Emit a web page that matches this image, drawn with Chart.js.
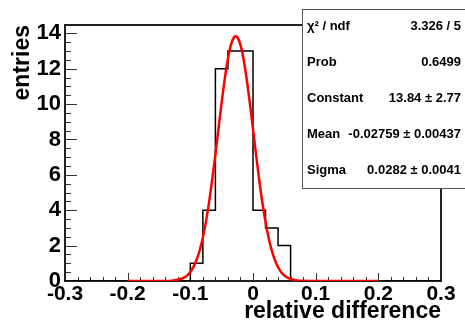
<!DOCTYPE html>
<html>
<head>
<meta charset="utf-8">
<script src="https://cdn.jsdelivr.net/npm/chart.js@4/dist/chart.umd.min.js"></script>
<style>
  html, body { margin:0; padding:0; background:#fff; }
  canvas { display:block; }
</style>
</head>
<body>
<canvas id="c" width="465" height="326"></canvas>
<script>
// histogram: left edge of each bin run and its entries
const binLow   = [-0.30, -0.10, -0.08, -0.06, -0.04, -0.02, 0.00, 0.02, 0.04, 0.06, 0.30];
const binCount = [0, 1, 4, 12, 13, 13, 4, 3, 2, 0, 0];

// gaus fit curve
const fitX = [-0.20,-0.15,-0.13,-0.12,-0.11,-0.105,-0.10,-0.095,-0.09,-0.085,-0.08,-0.075,-0.07,-0.065,-0.06,-0.055,-0.05,-0.045,-0.04,-0.035,-0.03,-0.0276,-0.025,-0.02,-0.015,-0.01,-0.005,0,0.005,0.01,0.015,0.02,0.025,0.03,0.035,0.04,0.045,0.05,0.055,0.06,0.07,0.08,0.10,0.20];
const fitY = [0,0.001,0.02,0.07,0.19,0.32,0.51,0.80,1.20,1.74,2.46,3.37,4.47,5.74,7.15,8.63,10.09,11.44,12.56,13.37,13.79,13.84,13.78,13.35,12.53,11.39,10.04,8.58,7.10,5.69,4.42,3.33,2.43,1.72,1.18,0.78,0.50,0.31,0.19,0.11,0.035,0.01,0,0];

const xTicks = [-0.3, -0.2, -0.1, 0, 0.1, 0.2, 0.3];
const yTicks = [0, 2, 4, 6, 8, 10, 12, 14];
const statLabels = ['\u03C7\u00B2 / ndf', 'Prob', 'Constant', 'Mean', 'Sigma'];
const statValues = ['3.326 / 5', '0.6499', '13.84 \u00B1 2.77', '-0.02759 \u00B1 0.00437', '0.0282 \u00B1 0.0041'];

const FONT = "'Liberation Sans', Arial, sans-serif";

// ROOT style frame with inner ticks
const framePlugin = {
  id: 'frame',
  beforeDatasetsDraw(chart){
    const {ctx, chartArea:a, scales:{x, y}} = chart;
    ctx.save();
    ctx.strokeStyle = '#333';
    ctx.lineWidth = 1;
    // x ticks, major every 0.1, minor every 0.02
    for(let i = 0; i <= 30; i++){
      const v = -0.3 + i*0.02;
      const px = Math.round(x.getPixelForValue(v)) + 0.5;
      const len = (i % 5 === 0) ? 8 : 4;
      ctx.beginPath(); ctx.moveTo(px, a.bottom); ctx.lineTo(px, a.bottom - len); ctx.stroke();
    }
    // y ticks, major every 2, minor every 0.5
    for(let i = 0; i <= 28; i++){
      const v = i*0.5;
      const py = Math.round(y.getPixelForValue(v)) + 0.5;
      const len = (i % 4 === 0) ? 12 : 6;
      ctx.beginPath(); ctx.moveTo(a.left, py); ctx.lineTo(a.left + len, py); ctx.stroke();
    }
    ctx.strokeStyle = '#222';
    ctx.lineWidth = 2;
    ctx.strokeRect(a.left, a.top, a.right - a.left, a.bottom - a.top);
    ctx.restore();
  },
  afterDraw(chart){
    const {ctx, chartArea:a} = chart;
    ctx.save();
    // axis titles
    ctx.fillStyle = '#000';
    ctx.font = `bold 23px ${FONT}`;
    ctx.textAlign = 'right';
    ctx.textBaseline = 'alphabetic';
    ctx.fillText('relative difference', a.right, 318);
    ctx.translate(29, a.top);
    ctx.rotate(-Math.PI/2);
    ctx.fillText('entries', 0, 0);
    ctx.setTransform(1,0,0,1,0,0);

    // stat box
    const bx = 302, by = 9, bw = 175, bh = 179;
    ctx.fillStyle = '#fff';
    ctx.fillRect(bx, by, bw, bh);
    ctx.strokeStyle = '#555';
    ctx.lineWidth = 1;
    ctx.strokeRect(bx + 0.5, by + 0.5, bw, bh);
    ctx.fillStyle = '#000';
    ctx.font = `bold 13px ${FONT}`;
    ctx.textBaseline = 'middle';
    const rowH = bh / statLabels.length;
    statLabels.forEach((lab, i) => {
      const cy = by + rowH*(i + 0.5);
      ctx.textAlign = 'left';
      ctx.fillText(lab, 307, cy);
      ctx.textAlign = 'right';
      ctx.fillText(statValues[i], 461, cy);
    });
    ctx.restore();
  }
};

new Chart(document.getElementById('c'), {
  type: 'line',
  data: {
    datasets: [
      {
        data: fitX.map((v, i) => ({x: v, y: fitY[i]})),
        borderColor: '#ff0000',
        borderWidth: 2.5,
        pointRadius: 0,
        cubicInterpolationMode: 'monotone',
        fill: false,
        order: 0,
      },
      {
        data: binLow.map((v, i) => ({x: v, y: binCount[i]})),
        borderColor: '#000',
        borderWidth: 1.5,
        pointRadius: 0,
        stepped: 'before',
        fill: false,
        order: 1,
      }
    ]
  },
  options: {
    responsive: false,
    animation: false,
    layout: { padding: { top: 25, right: 24, left: 0, bottom: 0 } },
    plugins: { legend: { display:false }, tooltip: { enabled:false } },
    scales: {
      x: {
        type: 'linear', min: -0.3, max: 0.3,
        grid: { display:false, drawTicks:false },
        border: { display:false },
        afterFit: s => { s.height = 45; },
        afterBuildTicks: s => { s.ticks = xTicks.map(v => ({value: v})); },
        ticks: {
          padding: 1, color: '#000', maxRotation: 0, autoSkip: false,
          font: { family: FONT, size: 21, weight: 'bold' },
          callback: v => String(Math.round(v*10)/10)
        }
      },
      y: {
        min: 0, max: 14.47,
        grid: { display:false, drawTicks:false },
        border: { display:false },
        afterFit: s => { s.width = 65; },
        afterBuildTicks: s => { s.ticks = yTicks.map(v => ({value: v})); },
        ticks: {
          padding: 4, color: '#000', autoSkip: false,
          font: { family: FONT, size: 22, weight: 'bold' },
          callback: v => String(v)
        }
      }
    }
  },
  plugins: [framePlugin]
});
</script>
</body>
</html>
